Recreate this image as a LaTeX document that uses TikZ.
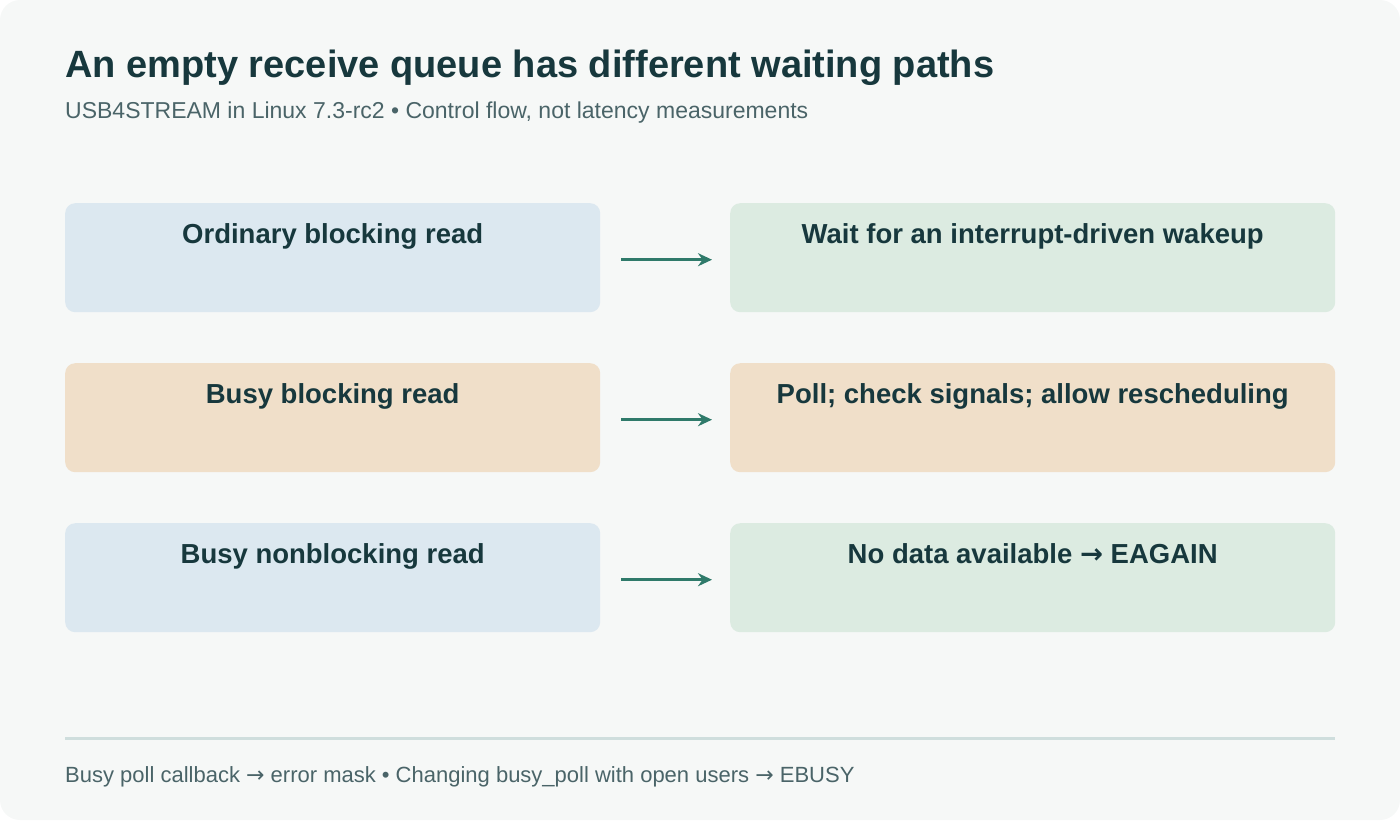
\documentclass[tikz,border=0pt]{standalone}
\usepackage{fontspec}
\setmainfont{Liberation Sans}
\newfontfamily\arrowfont{DejaVu Sans}
\usepackage{xcolor}
\usetikzlibrary{arrows.meta,positioning}
\definecolor{bgpage}{HTML}{F6F8F7}
\definecolor{inkdark}{HTML}{17383D}
\definecolor{inksoft}{HTML}{4A6468}
\definecolor{fillblue}{HTML}{DCE8F0}
\definecolor{fillgreen}{HTML}{DCEBE1}
\definecolor{fillsand}{HTML}{F0DFC9}
\definecolor{arrowteal}{HTML}{2F7A6A}
\definecolor{rulegray}{HTML}{CFDEDD}
\newcommand{\ra}{{\arrowfont\char"2192}}

\begin{document}
\begin{tikzpicture}[
    x=1pt, y=-1pt,
    box/.style={
        rectangle,
        rounded corners=10pt,
        inner sep=0pt,
        text height=40pt,
        text depth=69pt,
        text centered,
        text=inkdark,
        font=\fontsize{27.5}{32}\selectfont\bfseries
    },
    leftbox/.style={box, minimum width=535pt, anchor=north west},
    rightbox/.style={box, minimum width=605pt, anchor=north west},
    arrow/.style={-{Stealth[length=14pt,width=13pt]}, line width=3pt, arrowteal}
]

% Page
\fill[bgpage, rounded corners=20pt] (0,0) rectangle (1400,820);
\useasboundingbox (0,0) rectangle (1400,820);

% Heading
\node[anchor=base west, inner sep=0pt, text=inkdark, font=\fontsize{38}{44}\selectfont\bfseries] (title) at (65,77) {An empty receive queue has different waiting paths};
\node[anchor=base west, inner sep=0pt, text=inksoft, font=\fontsize{23}{27}\selectfont] (subtitle) at (65,118) {USB4STREAM in Linux 7.3-rc2 • Control flow, not latency measurements};

% Read modes
\node[leftbox, fill=fillblue] (ordinary) at (65,203) {Ordinary blocking read};
\node[leftbox, fill=fillsand] (busyblock) at (65,363) {Busy blocking read};
\node[leftbox, fill=fillblue] (busynonblock) at (65,523) {Busy nonblocking read};

% Outcomes
\node[rightbox, fill=fillgreen] (wakeup) at (730,203) {Wait for an interrupt-driven wakeup};
\node[rightbox, fill=fillsand] (poll) at (730,363) {Poll; check signals; allow rescheduling};
\node[rightbox, fill=fillgreen] (eagain) at (730,523) {No data available \ra\ EAGAIN};

% Arrows
\draw[arrow] ([xshift=21pt,yshift=-2pt]ordinary.east) -- ([xshift=-18pt,yshift=-2pt]wakeup.west);
\draw[arrow] ([xshift=21pt,yshift=-2pt]busyblock.east) -- ([xshift=-18pt,yshift=-2pt]poll.west);
\draw[arrow] ([xshift=21pt,yshift=-2pt]busynonblock.east) -- ([xshift=-18pt,yshift=-2pt]eagain.west);

% Footer
\coordinate (ruleleft) at (65,738);
\coordinate (ruleright) at (1335,738);
\draw[rulegray, line width=3pt] (ruleleft) -- (ruleright);
\node[anchor=base west, inner sep=0pt, text=inksoft, font=\fontsize{22}{26}\selectfont] (footer) at (65,782) {Busy poll callback \ra\ error mask • Changing busy\_poll with open users \ra\ EBUSY};

\end{tikzpicture}
\end{document}
